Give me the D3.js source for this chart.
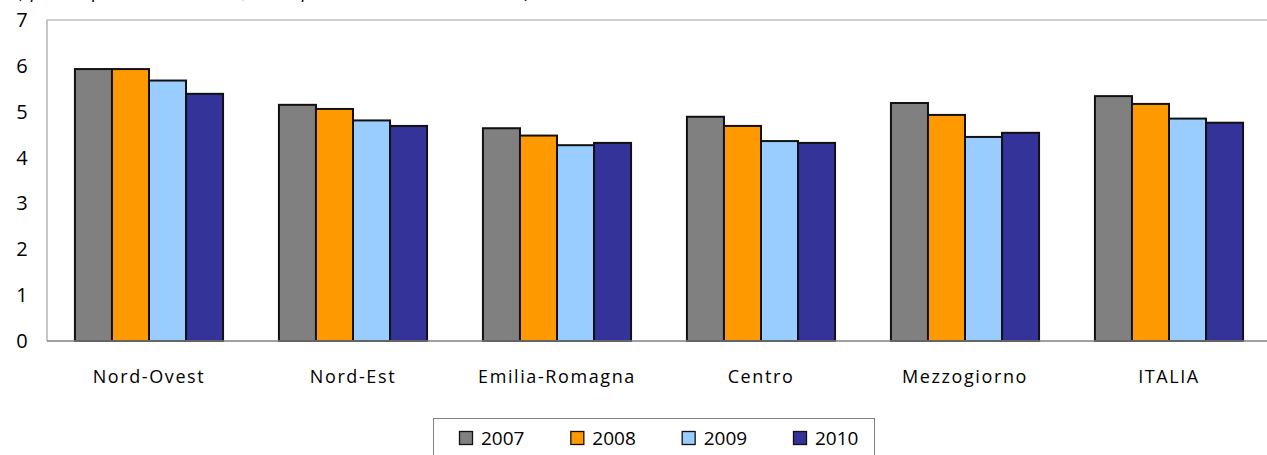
<!DOCTYPE html>
<html><head><meta charset="utf-8">
<script src="https://cdn.jsdelivr.net/npm/d3@7"></script>
<style>body{margin:0;background:#fff;overflow:hidden}svg{display:block}</style>
</head><body>
<svg id="c" width="1267" height="455"></svg>
<script>
const categories = ["Nord-Ovest","Nord-Est","Emilia-Romagna","Centro","Mezzogiorno","ITALIA"];
const years = ["2007","2008","2009","2010"];
const v2007 = [5.93,5.15,4.64,4.89,5.19,5.34];
const v2008 = [5.93,5.06,4.48,4.69,4.93,5.17];
const v2009 = [5.68,4.81,4.27,4.36,4.45,4.85];
const v2010 = [5.39,4.69,4.32,4.32,4.54,4.76];
const yTicks = [0,1,2,3,4,5,6,7];
const colors = ["#808080","#FF9900","#99CCFF","#333399"];
const subtitle = "(spesa in percentuale del PIL; valori percentuali, anni 2007-2010)";

const series = [v2007,v2008,v2009,v2010];
const svg = d3.select("#c");
const font = "'Open Sans', sans-serif";
const L = 47, R = 1271, T = 20, B = 341;

const x0 = d3.scaleBand().domain(categories).range([L,R]).padding(0);
const bw = x0.bandwidth();
const x1 = d3.scaleBand().domain(years).range([bw*0.137, bw*0.863]).padding(0);
const y = d3.scaleLinear().domain([0,7]).range([B,T]);

// subtitle mostly cut off
svg.append("text").attr("x",18).attr("y",-2).attr("font-family",font).attr("font-style","italic")
  .attr("font-size",18).attr("fill","#000").text(subtitle);

// frame
svg.append("path").attr("d",`M${L},${B}V${T}H${R}`).attr("fill","none").attr("stroke","#a0a0a0").attr("stroke-width",1.2);

// y tick labels
svg.append("g").selectAll("text").data(yTicks).join("text")
  .attr("x",22).attr("y",d=>y(d)).attr("dy","0.35em").attr("text-anchor","middle")
  .attr("font-family",font).attr("font-size",20).attr("fill","#000").text(d=>d);

// bars
const g = svg.append("g");
categories.forEach((c,i)=>{
  g.append("g").attr("transform",`translate(${x0(c)},0)`)
   .selectAll("rect").data(years.map((yr,k)=>({yr,v:series[k][i],k}))).join("rect")
   .attr("x",d=>x1(d.yr)).attr("width",x1.bandwidth())
   .attr("y",d=>y(d.v)).attr("height",d=>B-y(d.v))
   .attr("fill",d=>colors[d.k]).attr("stroke","#111").attr("stroke-width",2);
});

// x axis line
svg.append("line").attr("x1",L).attr("x2",R).attr("y1",B).attr("y2",B).attr("stroke","#808080").attr("stroke-width",1.6);

// x labels
svg.append("g").selectAll("text").data(categories).join("text")
  .attr("x",d=>x0(d)+bw/2).attr("y",377).attr("dy","0.35em").attr("text-anchor","middle")
  .attr("font-family",font).attr("font-size",18).attr("letter-spacing","1.6px").attr("fill","#000").text(d=>d);

// legend
const lg = svg.append("g");
lg.append("rect").attr("x",433.5).attr("y",418.5).attr("width",441).attr("height",50)
  .attr("fill","#fff").attr("stroke","#808080").attr("stroke-width",1);
const lx = d3.scaleLinear().domain([0,3]).range([459,793]);
const items = lg.selectAll("g").data(years).join("g").attr("transform",(d,i)=>`translate(${lx(i)},0)`);
items.append("rect").attr("x",0.5).attr("y",431.5).attr("width",13).attr("height",13)
  .attr("fill",(d,i)=>colors[i]).attr("stroke","#111").attr("stroke-width",1.3);
items.append("text").attr("x",22).attr("y",438.5).attr("dy","0.35em")
  .attr("font-family",font).attr("font-size",19).attr("fill","#000").text(d=>d);
</script>
</body></html>
